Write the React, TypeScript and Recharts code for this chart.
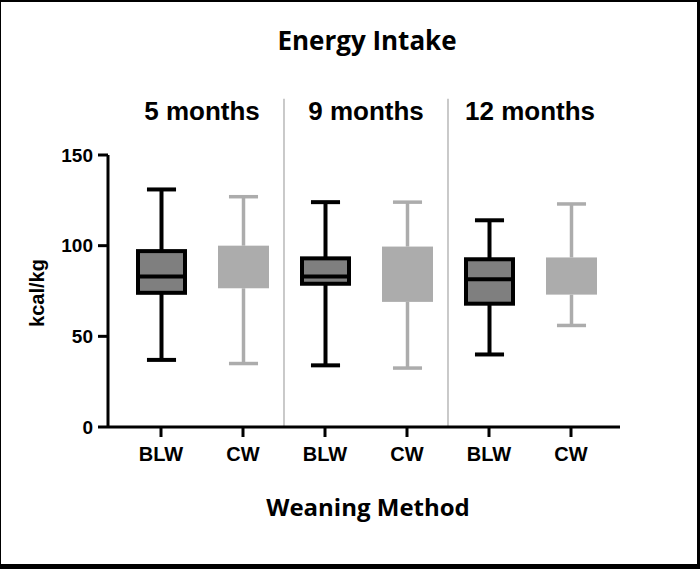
import { Bar, ComposedChart, ReferenceLine, XAxis, YAxis } from "recharts";

const groups = ["5 months", "9 months", "12 months"];
const methods = ["BLW", "CW"];

// one entry per box: 5m BLW, 5m CW, 9m BLW, 9m CW, 12m BLW, 12m CW
const mins = [37, 35, 34, 32.5, 40, 56];
const q1s = [74, 76.5, 79, 69, 68, 73];
const medians = [83, 88, 83, 84, 81.5, 83];
const q3s = [97, 100, 93, 99.5, 92.5, 93.5];
const maxs = [131, 127, 124, 124, 114, 123];
const yTicks = [0, 50, 100, 150];

const data = mins.map((min, i) => ({
  key: `${groups[Math.floor(i / 2)]} ${methods[i % 2]}`,
  group: groups[Math.floor(i / 2)],
  method: methods[i % 2],
  range: [min, maxs[i]],
  q1: q1s[i],
  median: medians[i],
  q3: q3s[i],
}));

const ARIAL = "'Liberation Sans', Arial, sans-serif";
const APTOS = "'Open Sans', sans-serif";
const LIGHT = "#acacac";

const BoxShape = (props: any) => {
  const { x, y, width, height, payload } = props;
  const [lo, hi] = payload.range;
  const top = Math.min(y, y + height);
  const span = Math.abs(height);
  const toY = (v: number) => top + ((hi - v) / (hi - lo)) * span;
  const cx = x + width / 2;
  const cap = width * 0.57;
  const dark = payload.method === "BLW";
  const line = dark ? "#000" : LIGHT;
  const fill = dark ? "#7f7f7f" : LIGHT;
  const sw = dark ? 4 : 3.5;
  const inset = dark ? 2 : 0;
  return (
    <g>
      <line x1={cx} x2={cx} y1={toY(hi)} y2={toY(payload.q3)} stroke={line} strokeWidth={sw} />
      <line x1={cx} x2={cx} y1={toY(payload.q1)} y2={toY(lo)} stroke={line} strokeWidth={sw} />
      <line x1={cx - cap / 2} x2={cx + cap / 2} y1={toY(hi)} y2={toY(hi)} stroke={line} strokeWidth={sw} />
      <line x1={cx - cap / 2} x2={cx + cap / 2} y1={toY(lo)} y2={toY(lo)} stroke={line} strokeWidth={sw} />
      <rect
        x={x + inset}
        y={toY(payload.q3)}
        width={width - inset * 2}
        height={toY(payload.q1) - toY(payload.q3)}
        fill={fill}
        stroke={dark ? "#000" : "none"}
        strokeWidth={4}
      />
      <line
        x1={x + inset}
        x2={x + width - inset}
        y1={toY(payload.median)}
        y2={toY(payload.median)}
        stroke={dark ? "#000" : fill}
        strokeWidth={4}
      />
    </g>
  );
};

const YLabel = (props: any) => {
  const { viewBox } = props;
  const lx = viewBox.x + 44;
  const ly = viewBox.y + viewBox.height / 2 + 2;
  return (
    <text
      x={lx}
      y={ly}
      transform={`rotate(-90, ${lx}, ${ly})`}
      textAnchor="middle"
      fontFamily={ARIAL}
      fontWeight={700}
      fontSize={20}
      fill="#000"
    >
      kcal/kg
    </text>
  );
};

export default function App() {
  const dividerTop = 181;
  return (
    <div style={{ position: "absolute", left: 0, top: 0, width: 700, height: 569, background: "#fff" }}>
      <ComposedChart
        width={700}
        height={569}
        data={data}
        margin={{ top: 119, right: 80, bottom: 0, left: 0 }}
      >
        <XAxis
          dataKey="key"
          type="category"
          interval={0}
          padding={{ left: 12, right: 8 }}
          height={142}
          tickFormatter={(v: string) => v.split(" ").pop() as string}
          tick={{ fill: "#000", fontSize: 20, fontWeight: 700, fontFamily: ARIAL }}
          tickLine={{ stroke: "#000", strokeWidth: 3 }}
          tickSize={10}
          tickMargin={10}
          axisLine={{ stroke: "#000", strokeWidth: 3 }}
          label={{
            value: "Weaning Method",
            position: "insideBottom",
            offset: 53,
            dx: 4,
            fill: "#000",
            fontSize: 24,
            fontWeight: 700,
            fontFamily: APTOS,
          }}
        />
        <XAxis
          xAxisId="top"
          dataKey="group"
          type="category"
          orientation="top"
          allowDuplicatedCategory={false}
          interval={0}
          padding={{ left: 12, right: 8 }}
          height={36}
          axisLine={false}
          tickLine={false}
          tickSize={0}
          tickMargin={35}
          tick={{ fill: "#000", fontSize: 26, fontWeight: 700, fontFamily: ARIAL }}
          label={{
            value: "Energy Intake",
            position: "top",
            offset: 69,
            dx: 3,
            fill: "#000",
            fontSize: 26,
            fontWeight: 700,
            fontFamily: APTOS,
          }}
        />
        <YAxis
          domain={[0, 150]}
          ticks={yTicks}
          width={108}
          tickSize={10}
          tickMargin={5}
          tick={{ fill: "#000", fontSize: 19, fontWeight: 700, fontFamily: ARIAL }}
          tickLine={{ stroke: "#000", strokeWidth: 3 }}
          axisLine={{ stroke: "#000", strokeWidth: 3 }}
          label={<YLabel />}
        />
        {groups.slice(1).map((g) => (
          <ReferenceLine
            key={g}
            xAxisId="top"
            position="start"
            ifOverflow="visible"
            segment={[
              { x: g, y: 0 },
              { x: g, y: dividerTop },
            ]}
            stroke="#a6a6a6"
            strokeWidth={1.2}
          />
        ))}
        <Bar dataKey="range" barSize={51} shape={<BoxShape />} isAnimationActive={false} />
      </ComposedChart>
      <div
        style={{
          position: "absolute",
          inset: 0,
          boxSizing: "border-box",
          borderStyle: "solid",
          borderColor: "#000",
          borderWidth: "2px 3px 5px 1px",
          pointerEvents: "none",
        }}
      />
    </div>
  );
}
